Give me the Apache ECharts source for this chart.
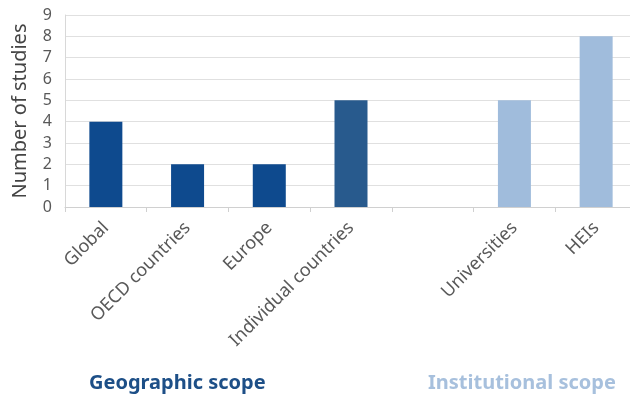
<!DOCTYPE html>
<html>
<head>
<meta charset="utf-8">
<script src="https://cdn.jsdelivr.net/npm/echarts@6/dist/echarts.min.js"></script>
<style>html,body{margin:0;padding:0;background:#fff;overflow:hidden}#c{width:640px;height:397px}</style>
</head>
<body>
<div id="c"></div>
<script>
const categories = ['Global', 'OECD countries', 'Europe', 'Individual countries', '', 'Universities', 'HEIs'];
const values = [4, 2, 2, 5, null, 5, 8];
const barColors = ['#0e4a8e', '#0e4a8e', '#0e4a8e', '#285a8d', '#a0bcdc', '#a0bcdc', '#a0bcdc'];
const yTicks = [0, 1, 2, 3, 4, 5, 6, 7, 8, 9];
const groupLabels = ['Geographic scope', 'Institutional scope'];
const groupColors = ['#1d4f87', '#a7c0dd'];

const font = 'Noto Sans';
const chart = echarts.init(document.getElementById('c'), null, {renderer: 'canvas'});
chart.setOption({
  animation: false,
  textStyle: {fontFamily: font},
  grid: {left: 65, top: 15, right: 3, bottom: 190},
  title: [
    {text: groupLabels[0], left: 84, top: 368, textStyle: {fontFamily: font, fontSize: 20, fontWeight: 'bold', color: groupColors[0]}},
    {text: groupLabels[1], left: 423, top: 368, textStyle: {fontFamily: font, fontSize: 20, fontWeight: 'bold', color: groupColors[1]}}
  ],
  xAxis: {
    type: 'category',
    data: categories,
    axisLine: {lineStyle: {color: '#d0d0d0'}},
    axisTick: {show: true, length: 5, lineStyle: {color: '#d0d0d0'}},
    axisLabel: {rotate: 45, fontSize: 18, color: '#595959', margin: 18, interval: 0}
  },
  yAxis: {
    type: 'value',
    min: yTicks[0],
    max: yTicks[yTicks.length - 1],
    interval: 1,
    name: 'Number of studies',
    nameLocation: 'middle',
    nameGap: 35,
    nameTextStyle: {fontSize: 20, color: '#444'},
    axisLine: {show: true, lineStyle: {color: '#d8d8d8'}},
    axisTick: {show: false},
    axisLabel: {fontSize: 16, color: '#595959', margin: 13},
    splitLine: {lineStyle: {color: '#e0e0e0'}}
  },
  series: [{
    type: 'bar',
    barWidth: 33,
    data: values.map((v, i) => ({value: v, itemStyle: {color: barColors[i]}}))
  }]
});
</script>
</body>
</html>
